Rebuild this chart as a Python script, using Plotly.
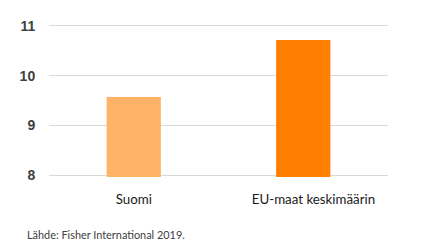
import plotly.graph_objects as go

categories = ["Suomi", "EU-maat keskimäärin"]
values = [9.57, 10.72]
colors = ["#FFB366", "#FF8000"]
y_ticks = [8, 9, 10, 11]
source = "Lähde: Fisher International 2019."

# the second label sits slightly right of its bar in the original
tick_text = [categories[0], "\u00a0" * 6 + categories[1]]

fig = go.Figure()
fig.add_trace(go.Bar(x=categories, y=values, marker=dict(color=colors, line=dict(width=0)),
                     width=0.32))

fig.update_layout(
    width=442, height=251,
    margin=dict(l=49, r=54, t=24, b=74),
    plot_bgcolor="white", paper_bgcolor="white",
    showlegend=False,
    xaxis=dict(showgrid=False, showline=False, ticks="outside", ticklen=10, tickcolor="rgba(0,0,0,0)",
               tickvals=categories, ticktext=tick_text,
               tickfont=dict(family="Lato, Open Sans, sans-serif", size=13.3, color="#1a1a1a")),
    yaxis=dict(range=[7.96, 11.04], tickvals=y_ticks, showgrid=True, gridcolor="#D9D9D9", gridwidth=1,
               zeroline=False, showline=False, ticks="outside", ticklen=10, tickcolor="rgba(0,0,0,0)",
               tickfont=dict(family="Liberation Sans, Arial, sans-serif", size=14, color="#404040", weight="bold")),
    annotations=[dict(text=source, xref="paper", yref="paper", x=-24/339, y=-57/153,
                      xanchor="left", yanchor="middle", showarrow=False,
                      font=dict(family="Lato, Open Sans, sans-serif", size=10.9, color="#404040"))],
)
fig.write_html("out.html")
